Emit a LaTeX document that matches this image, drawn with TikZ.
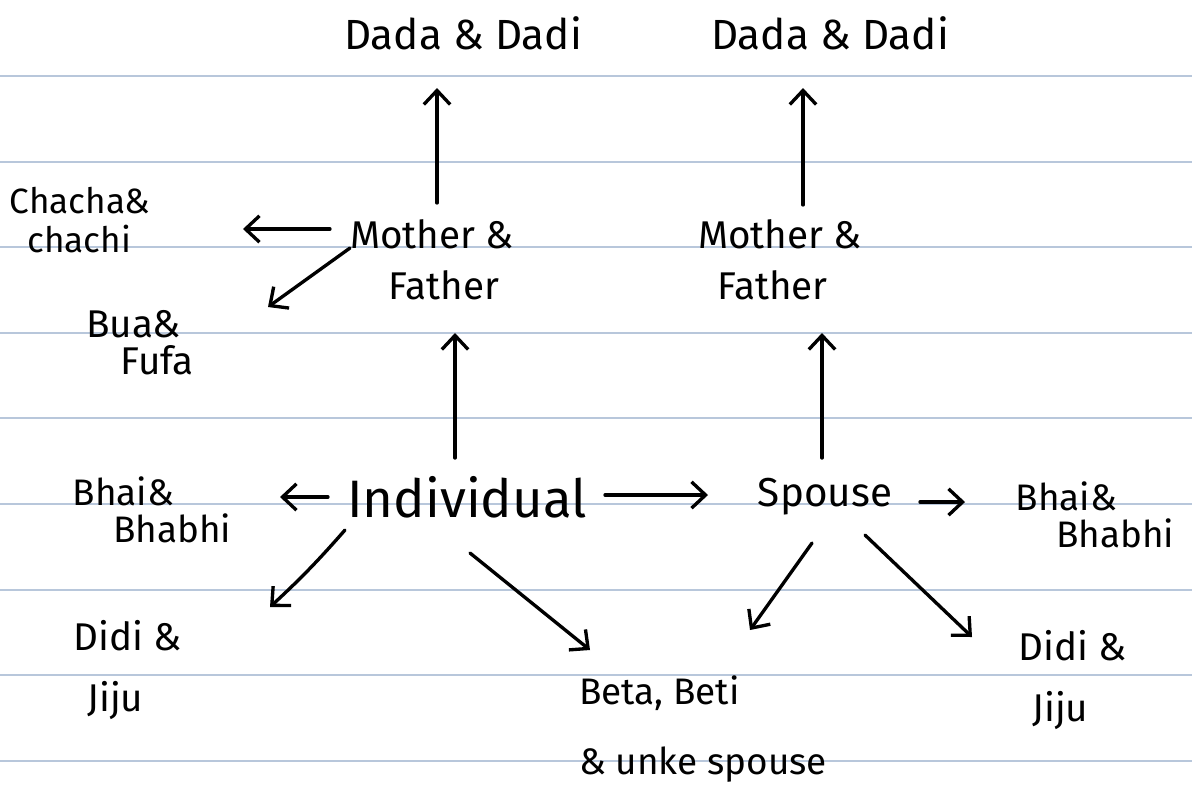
\documentclass[tikz,border=0pt]{standalone}
\usepackage{fontspec}
\setmainfont{Fira Sans}
\usetikzlibrary{arrows.meta,calc}
\definecolor{ruleblue}{RGB}{184,199,219}
\begin{document}
\begin{tikzpicture}[x=0.02cm,y=-0.02cm,
  lbl/.style={font=\fontsize{20}{24}\selectfont, align=left, inner sep=1pt},
  big/.style={font=\fontsize{24}{28}\selectfont, inner sep=1pt},
  arr/.style={-{Straight Barb[length=8pt,width=15pt,line width=1.9pt]}, line width=1.9pt, line cap=round},
  rule/.style={draw=ruleblue, line width=0.8pt}]
\fill[white] (0,0) rectangle (1192,789);
\useasboundingbox (0,0) rectangle (1192,789);
\foreach \yy in {76,162,247,333,418,504,590,675,761}
  \draw[rule] (0,\yy) -- (1192,\yy);
% nodes
\node[big] (dadaL) at (463,33) {Dada \& Dadi};
\node[big] (dadaR) at (830,33) {Dada \& Dadi};
\node[lbl, font=\fontsize{22}{29}\selectfont] (mfL) at (432,260) {Mother \&\\\hspace{1em}Father};
\node[lbl, font=\fontsize{22}{29}\selectfont] (mfR) at (780,260) {Mother \&\\\hspace{0.5em}Father};
\node[lbl, font=\fontsize{20}{22}\selectfont] (chacha) at (80,220) {Chacha\&\\\hspace{0.5em}chachi};
\node[lbl, font=\fontsize{22}{21}\selectfont] (bua) at (140,343) {Bua\&\\\hspace{0.9em}Fufa};
\node[big, font=\fontsize{30}{34}\selectfont] (ind) at (467,497) {Individual};
\node[big, font=\fontsize{23}{28}\selectfont] (spouse) at (825,497) {Spouse};
\node[lbl, font=\fontsize{21}{21}\selectfont] (bhaiL) at (152,510) {Bhai\&\\\hspace{1.1em}Bhabhi};
\node[lbl, font=\fontsize{21}{21}\selectfont] (bhaiR) at (1095,515) {Bhai\&\\\hspace{1.1em}Bhabhi};
\node[lbl, font=\fontsize{22}{35}\selectfont] (didiL) at (128,670) {Didi \&\\\hspace{0.35em}Jiju};
\node[lbl, font=\fontsize{22}{35}\selectfont] (didiR) at (1073,680) {Didi \&\\\hspace{0.35em}Jiju};
\node[lbl, font=\fontsize{21}{40}\selectfont] (beta) at (703,729) {Beta, Beti\\\& unke spouse};
% connectors
\draw[arr] ($(mfL)+(5,-57)$) -- ($(dadaL)+(-26,55)$);
\draw[arr] ($(mfR)+(23,-55)$) -- ($(dadaR)+(-27,55)$);
\draw[arr] ($(mfL)+(-102,-31)$) -- ($(chacha)+(163,9)$);
\draw[arr] ($(mfL)+(-82,-12)$) -- ($(bua)+(128,-36)$);
\draw[arr] ($(ind)+(-12,-39)$) -- ($(mfL)+(23,73)$);
\draw[arr] ($(spouse)+(-3,-39)$) -- ($(mfR)+(42,73)$);
\draw[arr] ($(ind)+(-139,0)$) -- ($(bhaiL)+(128,-13)$);
\draw[arr] ($(ind)+(138,-2)$) -- ($(spouse)+(-117,-2)$);
\draw[arr] ($(spouse)+(95,5)$) -- ($(bhaiR)+(-130,-13)$);
\draw[arr] ($(ind)+(-122,33)$) to[bend left=3] ($(didiL)+(142,-63)$);
\draw[arr] ($(ind)+(3,56)$) -- ($(beta)+(-113,-79)$);
\draw[arr] ($(spouse)+(-13,46)$) -- ($(beta)+(47,-99)$);
\draw[arr] ($(spouse)+(40,38)$) -- ($(didiR)+(-101,-43)$);
\end{tikzpicture}
\end{document}
